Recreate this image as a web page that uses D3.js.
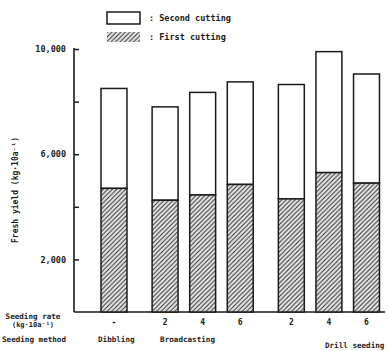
<!DOCTYPE html>
<html>
<head>
<meta charset="utf-8">
<script src="https://cdn.jsdelivr.net/npm/d3@7"></script>
<style>
  body { margin: 0; background: #fff; }
  svg text { font-family: "DejaVu Sans Mono", monospace; font-weight: bold; fill: #1a1a1a; }
</style>
</head>
<body>
<svg id="chart" width="388" height="351"></svg>
<script>
// data (kg/10a)
const keys = ['dib', 'b2', 'b4', 'b6', 'd2', 'd4', 'd6'];
const groups = [0, 1, 1, 1, 2, 2, 2];
const rateLabels = ['-', '2', '4', '6', '2', '4', '6'];
const firstCut = [4700, 4250, 4450, 4850, 4300, 5300, 4900];
const totalYield = [8500, 7800, 8350, 8750, 8650, 9900, 9050];
const methodLabels = ['Dibbling', 'Broadcasting', 'Drill seeding'];
const yTicks = [2000, 4000, 6000, 8000, 10000];
const yLabelTicks = [2000, 6000, 10000];

const svg = d3.select('#chart');
const ink = '#1a1a1a';

// hatch pattern for first cutting
const defs = svg.append('defs');
const pat = defs.append('pattern')
  .attr('id', 'hatch')
  .attr('patternUnits', 'userSpaceOnUse')
  .attr('width', 4.5).attr('height', 4.5);
pat.append('rect').attr('width', 4.5).attr('height', 4.5).attr('fill', '#e8e8e8');
pat.append('path')
  .attr('d', 'M-1,1 l2,-2 M0,4.5 l4.5,-4.5 M3.5,5.5 l2,-2')
  .attr('stroke', '#2a2a2a').attr('stroke-width', 1);

const groupGap = 13.5;
const x = d3.scaleBand().domain(keys).range([95.2, 358.3]).paddingInner(0.31).paddingOuter(0.155);
const xPos = i => x(keys[i]) + groups[i] * groupGap;

const y = d3.scaleLinear().domain([0, 10000]).range([312, 49]);

// y axis
const yAxis = svg.append('g').attr('transform', 'translate(74,0)')
  .call(d3.axisLeft(y).tickValues(yTicks).tickSize(-5).tickPadding(8)
    .tickFormat(d => yLabelTicks.includes(d) ? d3.format(',')(d) : ''));
yAxis.select('.domain').remove();
yAxis.selectAll('line').attr('stroke', ink).attr('stroke-width', 1.5);
yAxis.selectAll('text').attr('font-size', 8.5).attr('fill', ink)
  .style('font-family', '"DejaVu Sans Mono", monospace').style('font-weight', 'bold');
svg.append('line').attr('x1', 74).attr('x2', 74).attr('y1', y(10000) - 1).attr('y2', y(0))
  .attr('stroke', ink).attr('stroke-width', 1.6);

// baseline
svg.append('line').attr('x1', 74).attr('x2', 385).attr('y1', y(0)).attr('y2', y(0))
  .attr('stroke', ink).attr('stroke-width', 1.4);

// bars
const bars = svg.append('g').selectAll('g').data(keys).join('g');
bars.append('rect')
  .attr('x', (d, i) => xPos(i))
  .attr('width', x.bandwidth())
  .attr('y', (d, i) => y(totalYield[i]))
  .attr('height', (d, i) => y(firstCut[i]) - y(totalYield[i]))
  .attr('fill', '#fff').attr('stroke', ink).attr('stroke-width', 1.5);
bars.append('rect')
  .attr('x', (d, i) => xPos(i))
  .attr('width', x.bandwidth())
  .attr('y', (d, i) => y(firstCut[i]))
  .attr('height', (d, i) => y(0) - y(firstCut[i]))
  .attr('fill', 'url(#hatch)').attr('stroke', ink).attr('stroke-width', 1.5);

// seeding rate labels
svg.append('g').selectAll('text').data(rateLabels).join('text')
  .attr('x', (d, i) => xPos(i) + x.bandwidth() / 2)
  .attr('y', 325)
  .attr('text-anchor', 'middle')
  .attr('font-size', 8)
  .text(d => d);

// method labels
const methodX = [xPos(0) - 3, xPos(1) + 8, xPos(5) + 9];
const methodY = [342, 342, 348];
svg.append('g').selectAll('text').data(methodLabels).join('text')
  .attr('x', (d, i) => methodX[i])
  .attr('y', (d, i) => methodY[i])
  .attr('font-size', 7.6)
  .text(d => d);

// row titles
svg.append('text').attr('x', 33).attr('y', 319).attr('text-anchor', 'middle').attr('font-size', 7.6).text('Seeding rate');
svg.append('text').attr('x', 33).attr('y', 327).attr('text-anchor', 'middle').attr('font-size', 7)
  .text('(kg·10a⁻¹)');
svg.append('text').attr('x', 2).attr('y', 342).attr('font-size', 7.6).text('Seeding method');

// y title
svg.append('text')
  .attr('transform', 'translate(18,190) rotate(-90)')
  .attr('text-anchor', 'middle')
  .attr('font-size', 8)
  .text('Fresh yield (kg·10a⁻¹)');

// legend
const legend = svg.append('g');
legend.append('rect').attr('x', 107).attr('y', 12).attr('width', 33).attr('height', 12)
  .attr('fill', '#fff').attr('stroke', ink).attr('stroke-width', 1.5);
legend.append('rect').attr('x', 107).attr('y', 32).attr('width', 33).attr('height', 10)
  .attr('fill', 'url(#hatch)').attr('stroke', 'none');
legend.append('text').attr('x', 149).attr('y', 21).attr('font-size', 8.5).text(': Second cutting');
legend.append('text').attr('x', 149).attr('y', 40).attr('font-size', 8.5).text(': First cutting');
</script>
</body>
</html>
